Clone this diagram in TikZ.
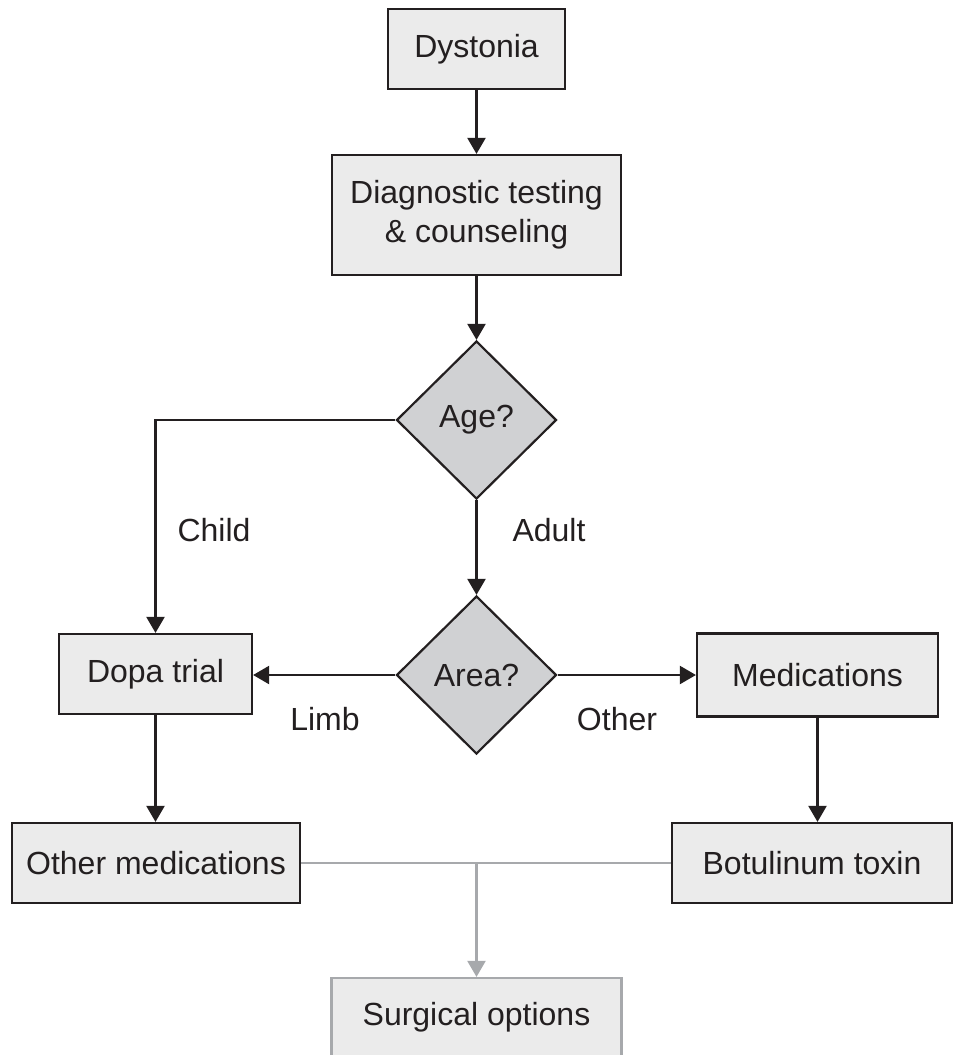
\documentclass[tikz,border=0pt]{standalone}
\usepackage{fontspec}
\setmainfont{Liberation Sans}
\usetikzlibrary{shapes.geometric,arrows.meta}
\definecolor{boxfill}{HTML}{EBEBEB}
\definecolor{diafill}{HTML}{D0D1D3}
\definecolor{ink}{HTML}{231F20}
\definecolor{lgray}{HTML}{A7A9AC}
\begin{document}
\begin{tikzpicture}[x=1pt,y=-1pt,
  every node/.style={font=\fontsize{32}{39}\selectfont, text=ink},
  box/.style={draw=ink, line width=2.2pt, fill=boxfill, rectangle, inner sep=0pt, align=center},
  dia/.style={draw=ink, line width=2.2pt, fill=diafill, diamond, inner sep=0pt, minimum width=160pt, minimum height=158pt},
  arr/.style={draw=ink, line width=2.2pt, -{Triangle[length=16pt,width=18pt]}},
  garr/.style={draw=lgray, line width=2.2pt, -{Triangle[length=16pt,width=18pt]}},
  lbl/.style={inner sep=0pt}]
\clip (0,0) rectangle (954,1055);
\node[box, minimum width=177pt, minimum height=80pt] (dys) at (476.5,49) {Dystonia};
\node[box, minimum width=289pt, minimum height=120pt] (diag) at (476.5,215) {Diagnostic testing\\\& counseling};
\node[dia] (age) at (476.5,420) {Age?};
\node[dia] (area) at (476.5,675) {Area?};
\node[box, minimum width=193pt, minimum height=80pt] (dopa) at (155.5,674) {Dopa trial};
\node[box, minimum width=241pt, minimum height=83pt] (meds) at (817.5,675) {Medications};
\node[box, minimum width=288pt, minimum height=80pt] (omeds) at (156,863) {Other medications};
\node[box, minimum width=280pt, minimum height=80pt] (botox) at (812,863) {Botulinum toxin};
\node[draw=lgray, line width=2.2pt, fill=boxfill, rectangle, inner sep=0pt, minimum width=290pt,
      text height=47pt, text depth=50pt, anchor=base] (surg) at (476.5,1025) {Surgical options};
\node[lbl] (child) at (214,530) {Child};
\node[lbl] (adult) at (549,530) {Adult};
\node[lbl] (limb) at (325,719) {Limb};
\node[lbl] (other) at (617,719) {Other};
\draw[arr] (dys.south) -- (diag.north);
\draw[arr] (diag.south) -- (age.north);
\draw[arr] (age.west) -| (dopa.north);
\draw[arr] (age.south) -- (area.north);
\draw[arr] (area.west) -- (area.west -| dopa.east);
\draw[arr] (area.east) -- (area.east -| meds.west);
\draw[arr] (dopa.south) -- (omeds.north -| dopa.south);
\draw[arr] (meds.south) -- (meds.south |- botox.north);
\coordinate (j) at (476.5,863);
\draw[draw=lgray, line width=2.2pt] (omeds.east) -- (botox.west);
\draw[garr] (j) -- (surg.north);
\end{tikzpicture}
\end{document}
